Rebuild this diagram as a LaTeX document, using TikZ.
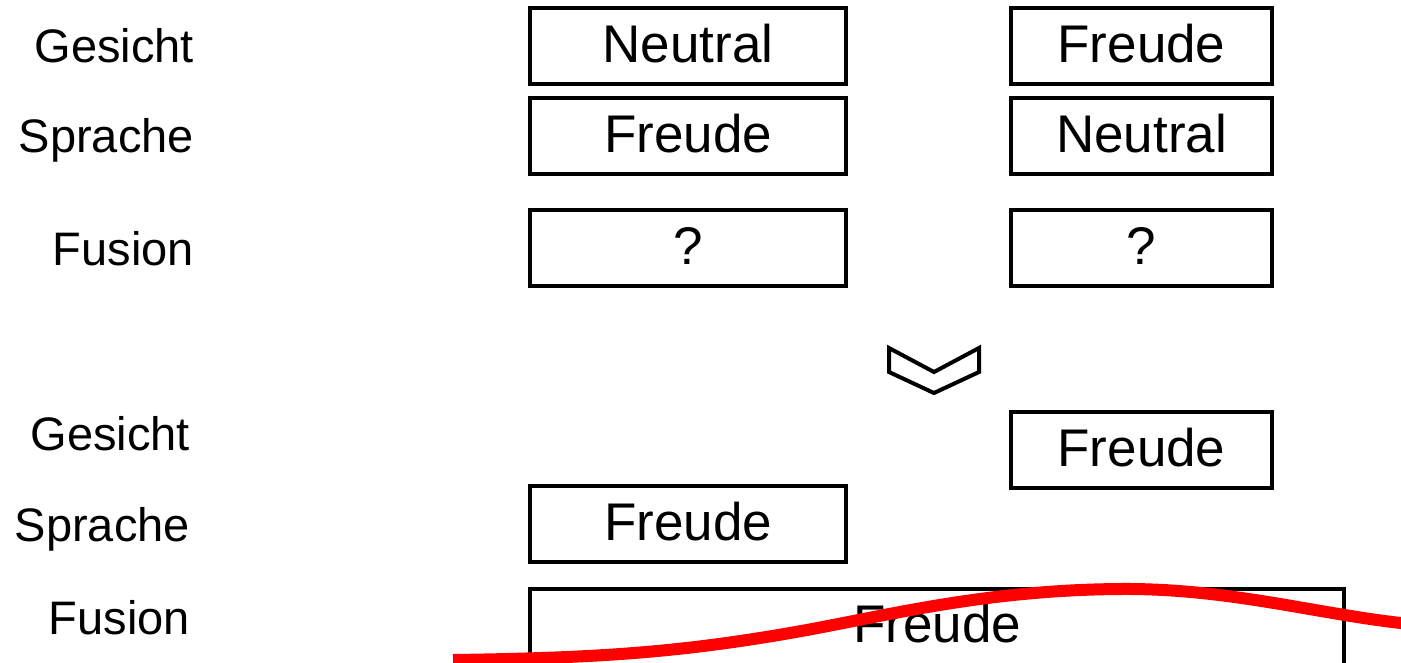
\documentclass[tikz,border=0pt]{standalone}
\usepackage{fontspec}
\setmainfont{Liberation Sans}
\begin{document}
\begin{tikzpicture}[x=1pt,y=-1pt,
  rowlabel/.style={anchor=base east,font=\fontsize{47}{56}\selectfont,inner sep=0pt},
  valbox/.style={draw,line width=4pt,inner sep=0pt,font=\fontsize{53}{60}\selectfont,
    text height=35pt,text depth=2pt},
  widebox/.style={valbox,minimum width=316pt,minimum height=76pt},
  narrowbox/.style={valbox,minimum width=261pt,minimum height=76pt}]
\useasboundingbox (0,0) rectangle (1401,662);
\clip (0,0) rectangle (1401,662);

% upper table: both conditions, fusion unknown
\node[rowlabel] (g1) at (194,62) {Gesicht};
\node[rowlabel] (s1) at (194,152) {Sprache};
\node[rowlabel] (f1) at (194,265) {Fusion};

\node[widebox] (a1) at (688,45.5) {Neutral};
\node[widebox] (a2) at (688,136) {Freude};
\node[widebox] (a3) at (688,248) {?};
\node[narrowbox] (b1) at (1141.5,45.5) {Freude};
\node[narrowbox] (b2) at (1141.5,136) {Neutral};
\node[narrowbox] (b3) at (1141.5,248) {?};

% chevron pointing down
\draw[line width=4pt,line join=miter] (889,348) -- (889,372) -- (934,393) -- (979,372)
  -- (979,348) -- (934,372) -- cycle;

% lower table: shifted timing, fused result
\node[rowlabel] (g2) at (190,450) {Gesicht};
\node[rowlabel] (s2) at (190,541) {Sprache};
\node[rowlabel] (f2) at (190,634) {Fusion};

\node[narrowbox] (c1) at (1141.5,449.5) {Freude};
\node[widebox] (c2) at (688,523.5) {Freude};
\draw[line width=4pt] (530,680) -- (530,589) -- (1344,589) -- (1344,680);
\node[font=\fontsize{53}{60}\selectfont,anchor=base,inner sep=0pt] (c3) at (937,642) {Freude};

% red strike-through stroke
\draw[red,line width=12pt] (453,660)
  .. controls (600,658) and (680,652) .. (790,633)
  .. controls (880,617.5) and (980,590) .. (1120,589)
  .. controls (1230,588) and (1320,615) .. (1410,624);
\end{tikzpicture}
\end{document}
